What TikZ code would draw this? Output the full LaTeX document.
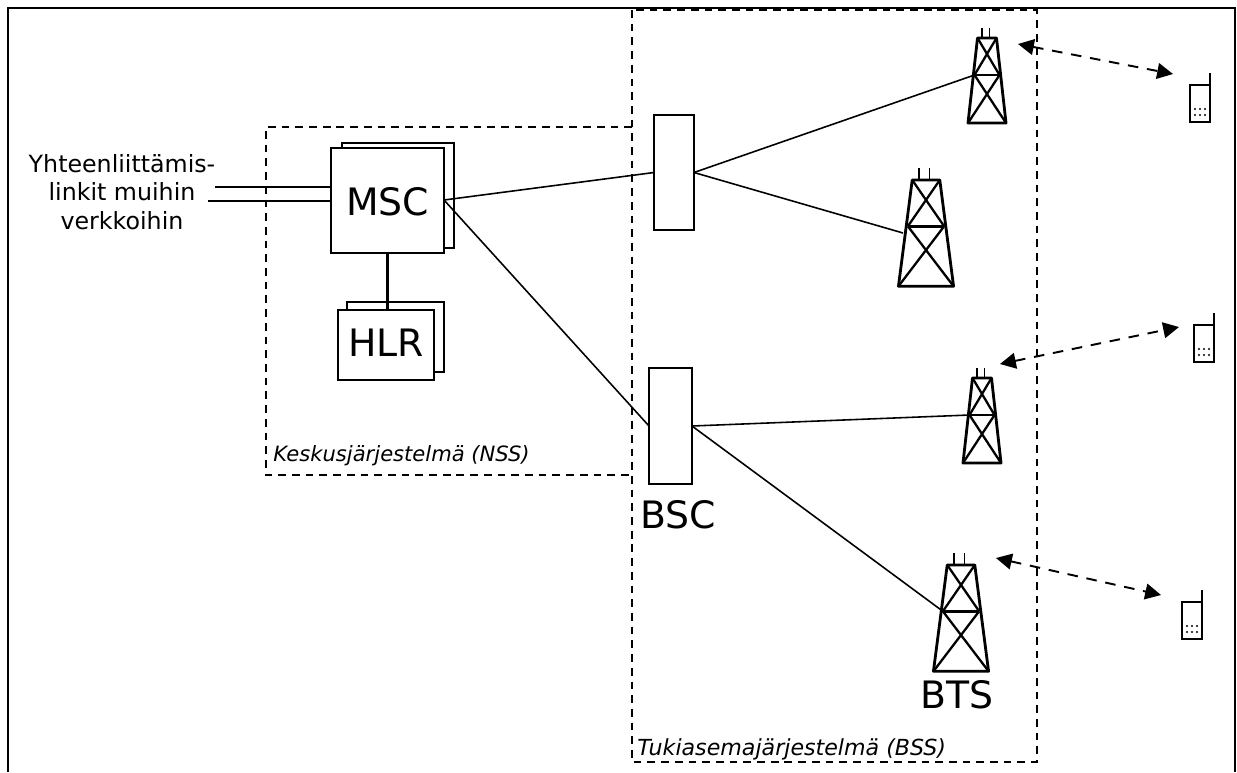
\documentclass[tikz,border=0pt]{standalone}
\usepackage{fontspec}
\setmainfont{DejaVu Sans}
\usetikzlibrary{arrows.meta}
\tikzset{
	plain/.style={line width=0.9pt},
	group/.style={line width=0.9pt, dash pattern=on 4.4pt off 3.4pt},
	radio/.style={line width=1.1pt, dash pattern=on 6pt off 5pt, {Triangle[length=9pt,width=9pt]}-{Triangle[length=9pt,width=9pt]}},
	unit/.style={draw, fill=white, line width=0.9pt, inner sep=0pt, outer sep=0pt, minimum width=#1},
	big/.style={font=\fontsize{21.5}{25}\selectfont},
	small/.style={font=\fontsize{13.5}{16.2}\selectfont, align=center},
	note/.style={font=\fontsize{12}{14}\selectfont\itshape, anchor=west, inner sep=0pt},
	pics/tower/.style={code={
		\coordinate (-mid) at (-12.5,37);
		\draw[line width=1.6pt, line join=round] (-9.5,0) -- (9.5,0) -- (19,85) -- (-19,85) -- cycle;
		\draw[line width=1.6pt] (-12.5,37) -- (12.5,37);
		\draw[line width=1.3pt] (-9.5,0) -- (12.5,37) (9.5,0) -- (-12.5,37);
		\draw[line width=1.3pt] (-12.5,37) -- (19,85) (12.5,37) -- (-19,85);
		\draw[plain] (-5,0) -- (-5,-10) (2.5,0) -- (2.5,-10);
	}},
	pics/phone/.style={code={
		\draw[plain] (0,0) rectangle (20,37);
		\draw[plain] (20,0) -- (20,-12);
		\foreach \px in {5,10,15} {
			\foreach \py in {24,30} {
				\fill (\px,\py) circle (0.6pt);
			}
		}
	}}
}
\begin{document}
\begin{tikzpicture}[x=0.02cm, y=-0.02cm]
	\useasboundingbox (0,0) rectangle (1237,772);
	% outer frame
	\draw[line width=1.1pt] (8,772) -- (8,8) -- (1235,8) -- (1235,772);
	% dashed groups
	\draw[group] (632,127) -- (266,127) -- (266,475) -- (632,475);
	\draw[group] (632,10) rectangle (1037,762);
	\node[note] (nss_label) at (273,456) {Keskusjärjestelmä (NSS)};
	\node[note, font=\fontsize{12.6}{14}\selectfont\itshape] (bss_label) at (637,749) {Tukiasemajärjestelmä (BSS)};
	% switching part
	\node[unit=2.24cm, minimum height=2.1cm] (msc_back) at (398,195.5) {};
	\node[unit=2.26cm, minimum height=2.1cm, big, text height=17.5pt] (msc) at (387.5,200.5) {MSC};
	\node[unit=1.94cm, minimum height=1.4cm] (hlr_back) at (395.5,337) {};
	\node[unit=1.92cm, minimum height=1.4cm, big, text depth=3pt] (hlr) at (386,345) {HLR};
	\node[small] (links_label) at (122,192) {Yhteenliittämis-\\linkit muihin\\verkkoihin};
	\coordinate (link_a) at (215,187);
	\coordinate (link_b) at (208,201);
	\draw[plain] (link_a) -- (link_a -| msc.west);
	\draw[plain] (link_b) -- (link_b -| msc.west);
	\draw[line width=1.2pt] (msc.south) -- (msc.south |- hlr.north);
	% controllers
	\node[unit=0.8cm, minimum height=2.3cm] (bsc_a) at (674,172.5) {};
	\node[unit=0.86cm, minimum height=2.32cm] (bsc_b) at (670.5,426) {};
	\node[big] (bsc_label) at (678,515) {BSC};
	% towers
	\pic (tower_a) at (987,38) {tower};
	\pic[xscale=1.45, yscale=1.25] (tower_b) at (926,180) {tower};
	\pic (tower_c) at (982,378) {tower};
	\pic[xscale=1.45, yscale=1.25] (tower_d) at (961,565) {tower};
	\node[big] (bts_label) at (957,695) {BTS};
	% phones
	\pic (phone_a) at (1190,85) {phone};
	\pic (phone_b) at (1194,325) {phone};
	\pic (phone_c) at (1182,602) {phone};
	% connections
	\coordinate (msc_out) at (444,200);
	\coordinate (tower_b_in) at (903,233);
	\draw[plain] (msc_out) -- (bsc_a.west);
	\draw[plain] (msc_out) -- (bsc_b.west);
	\draw[plain] (bsc_a.east) -- (tower_a-mid);
	\draw[plain] (bsc_a.east) -- (tower_b_in);
	\draw[plain] (bsc_b.east) -- (tower_c-mid);
	\draw[plain] (bsc_b.east) -- (tower_d-mid);
	% radio links
	\coordinate (radio_a) at (1018,44);
	\coordinate (radio_b) at (1000,364);
	\coordinate (radio_c) at (996,558);
	\coordinate (hand_a) at (1173,74);
	\coordinate (hand_b) at (1179,327);
	\coordinate (hand_c) at (1161,595);
	\draw[radio] (radio_a) -- (hand_a);
	\draw[radio] (radio_b) -- (hand_b);
	\draw[radio] (radio_c) -- (hand_c);
\end{tikzpicture}
\end{document}
